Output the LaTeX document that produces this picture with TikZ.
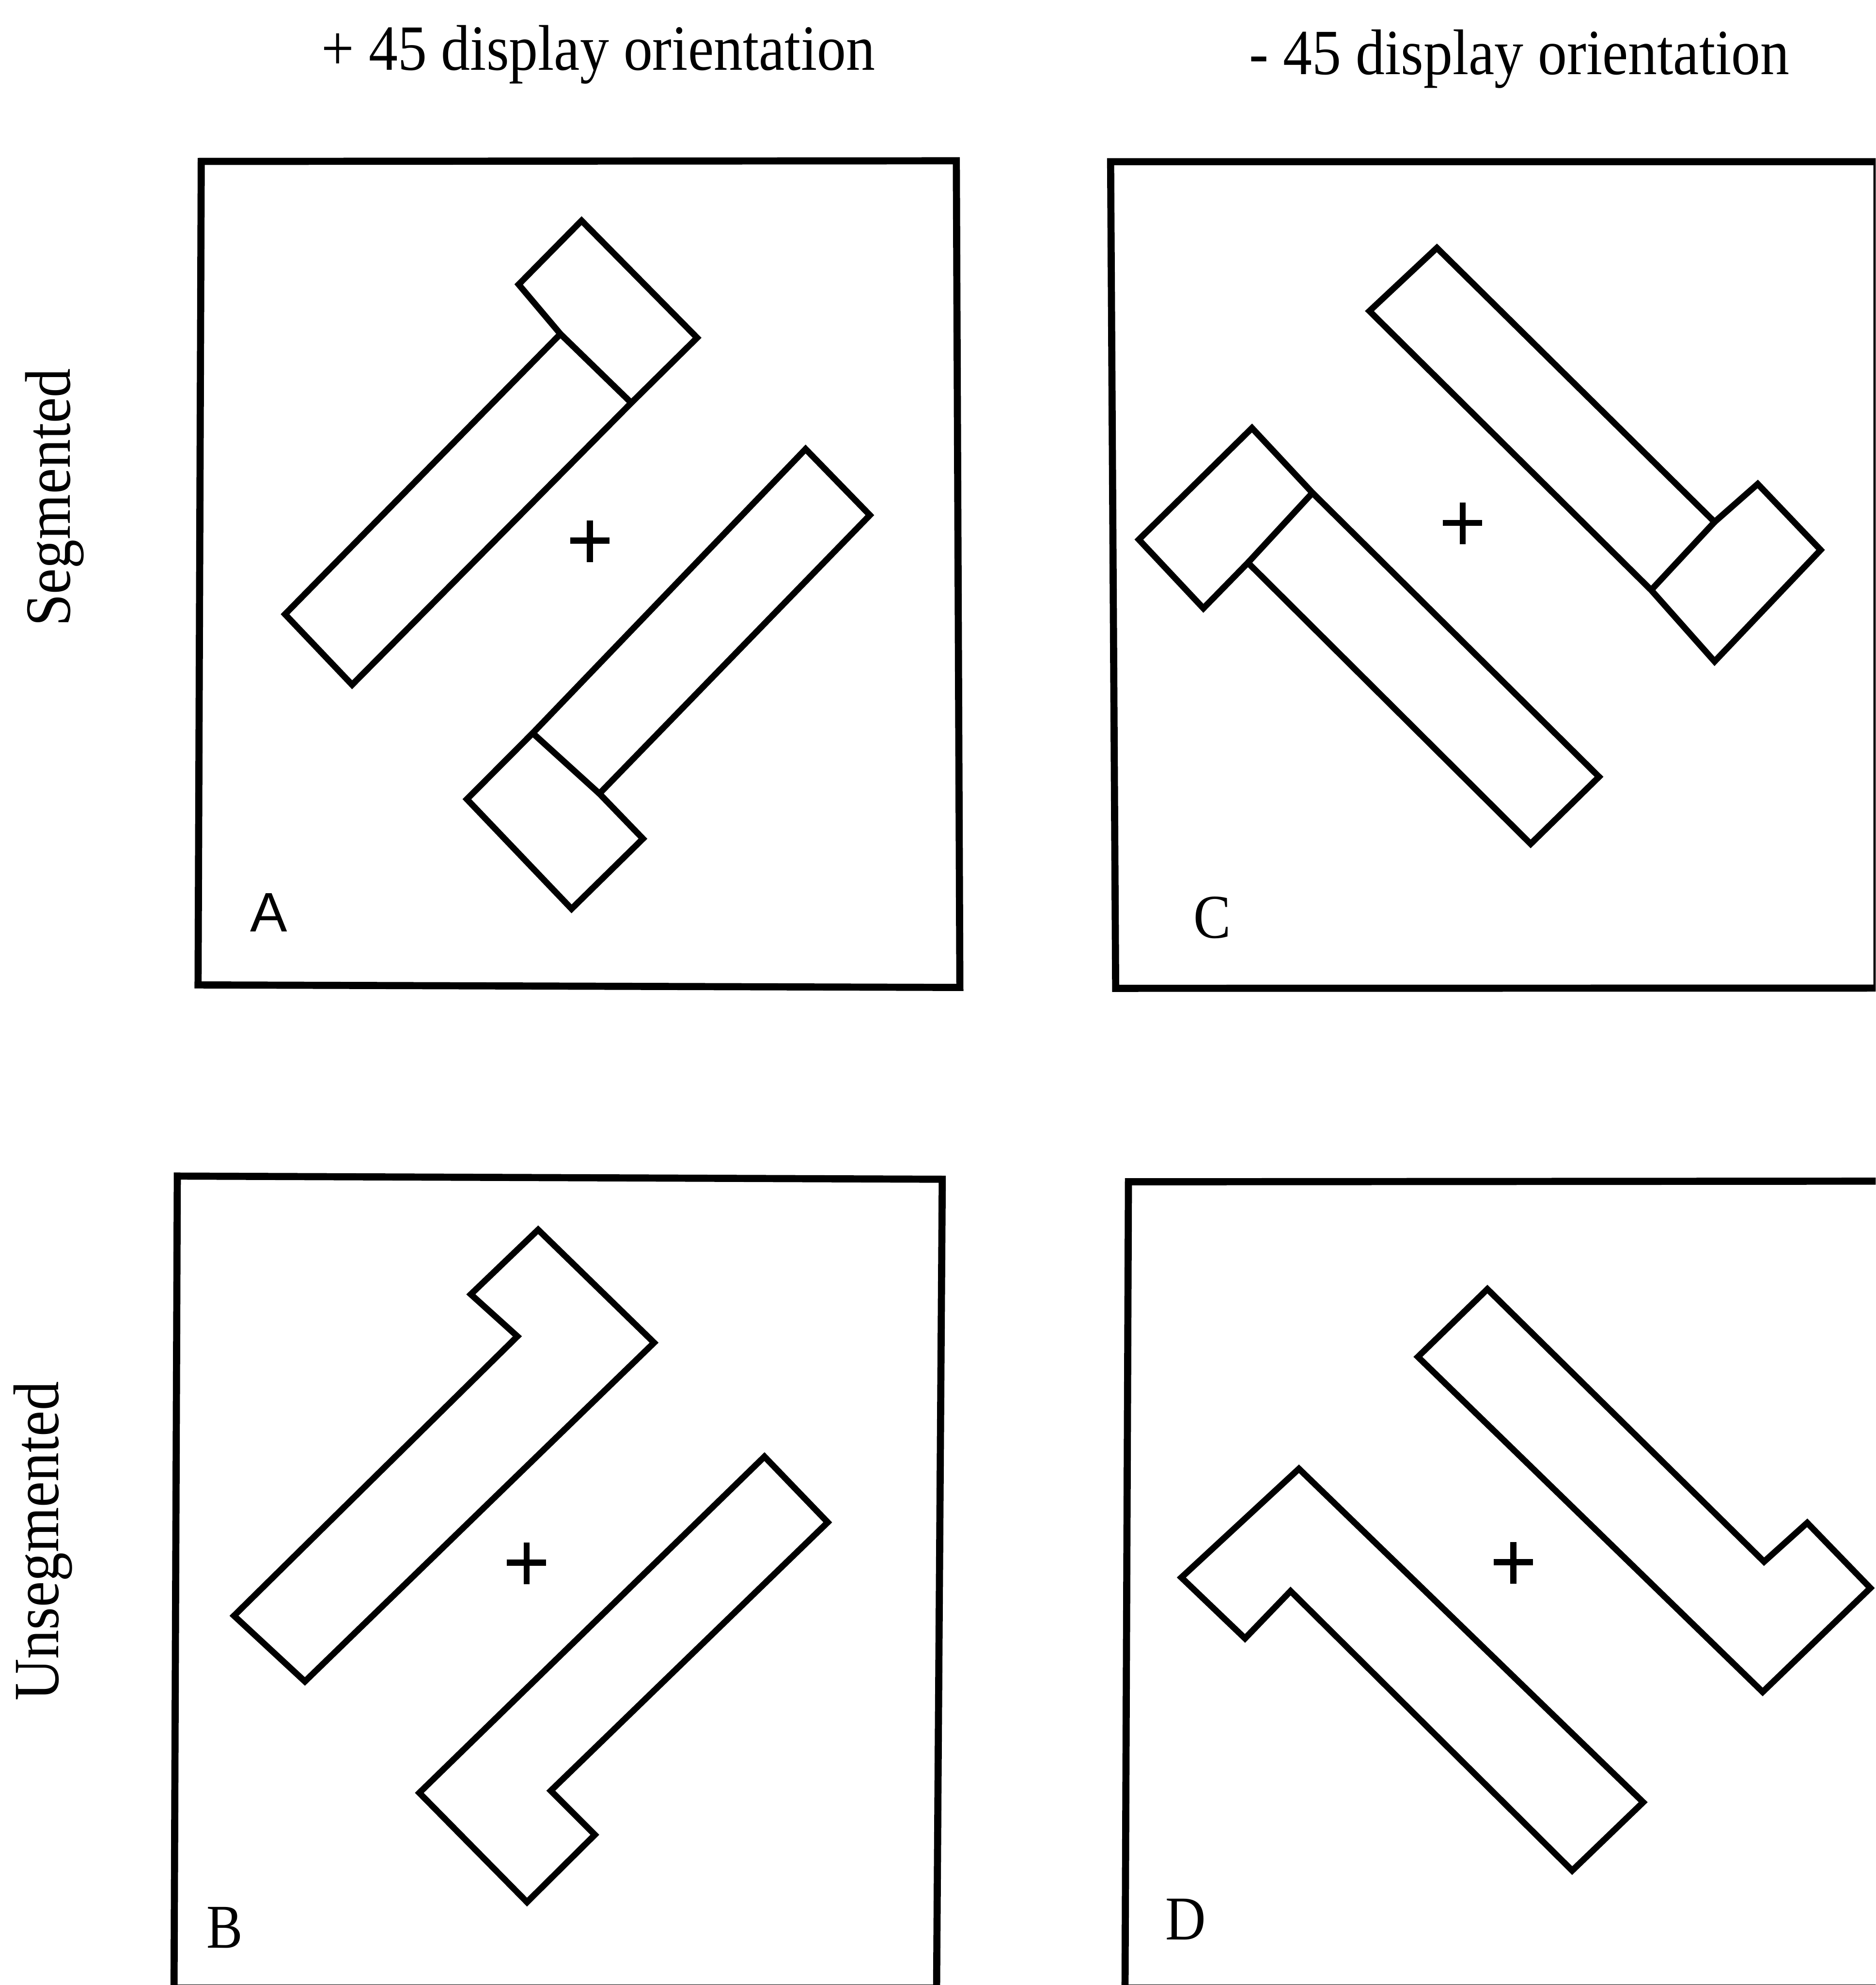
\documentclass[tikz,border=0pt]{standalone}
\usepackage{fontspec}
\usepackage{graphicx}
\setmainfont{Liberation Serif}
\newfontfamily\sansfam{Liberation Sans}
\begin{document}
\begin{tikzpicture}[x=0.1mm,y=-0.1mm,
  panelframe/.style={line width=1.6pt, line join=miter},
  figline/.style={line width=1.4pt, line join=miter},
  fixmark/.style={line width=1.35pt},
  ttl/.style={inner sep=0pt, anchor=base, font=\fontsize{14.5}{17}\selectfont},
  letter/.style={inner sep=0pt, anchor=base, font=\fontsize{14}{16}\selectfont},
  ]
\useasboundingbox (0,0) rectangle (1482,1568);
\clip (0,0) rectangle (1482,1568);

% headings
\node[ttl] (t1) at (472.7,55.4) {\scalebox{0.9}[1]{+ 45 display orientation}};
\node[ttl] (t2) at (1200.5,58.6) {\scalebox{0.9}[1]{- 45 display orientation}};
\node[ttl, rotate=90] (r1) at (55.4,393) {\scalebox{0.9}[1]{Segmented}};
\node[ttl, rotate=90] (r2) at (46,1217.5) {\scalebox{0.9}[1]{Unsegmented}};

% frames
\draw[panelframe] (159,127.5) -- (755.6,127) -- (758.4,780) -- (156.5,778) -- cycle;
\draw[panelframe] (877.5,127.7) -- (1483,127.7) -- (1483,780.5) -- (881.5,780.7) -- cycle;
\draw[panelframe] (140.1,929) -- (744.5,931.5) -- (740,1570.5) -- (137.5,1570.5) -- cycle;
\draw[panelframe] (891.6,933.5) -- (1490,933) -- (1490,1570.5) -- (888.9,1570.5) -- cycle;

% panel A (segmented, +45)
\draw[figline] (225.2,485.2) -- (442.8,263.8) -- (409.8,224.7) -- (459.5,174.3) -- (550.8,266.8) -- (498.8,318.2) -- (278.2,540.9) -- cycle;
\draw[figline] (442.8,263.8) -- (498.8,318.2);
\draw[figline] (636.5,354.7) -- (687.3,406.9) -- (473.6,626.9) -- (508,662.5) -- (451.6,717.9) -- (368.9,631.3) -- (420.9,579.1) -- cycle;
\draw[figline] (420.9,579.1) -- (473.6,626.9);

% panel C (segmented, -45)
\draw[figline] (1135.3,195.8) -- (1354.7,412.3) -- (1388.8,382.3) -- (1438.5,434.4) -- (1354.7,522.5) -- (1304.6,466.1) -- (1082,245.7) -- cycle;
\draw[figline] (1354.7,412.3) -- (1304.6,466.1);
\draw[figline] (989.2,338.1) -- (1037,389.3) -- (1263.4,613.6) -- (1209.4,666.6) -- (986,444.5) -- (950.8,480.5) -- (899.8,426.2) -- cycle;
\draw[figline] (1037,389.3) -- (986,444.5);

% panel B (unsegmented, +45)
\draw[figline] (425.2,971.4) -- (516.8,1060.6) -- (240.9,1328.2) -- (184.9,1276.3) -- (408.8,1055.6) -- (372,1022.4) -- cycle;
\draw[figline] (604,1150.6) -- (654,1202.5) -- (435.2,1414.5) -- (470,1449.3) -- (416.4,1502.5) -- (331.3,1416.2) -- cycle;

% panel D (unsegmented, -45)
\draw[figline] (1175.2,1018.3) -- (1393.8,1233.6) -- (1427.9,1202.9) -- (1477.8,1254.4) -- (1392.7,1336.5) -- (1120.3,1071.8) -- cycle;
\draw[figline] (1026.3,1160.2) -- (1298.3,1423.6) -- (1242.2,1477.6) -- (1019.7,1256.8) -- (983.7,1294.2) -- (933.4,1246.1) -- cycle;

% fixation crosses
\coordinate (pa) at (466,427);
\coordinate (pc) at (1155.6,413);
\coordinate (pb) at (416,1234.4);
\coordinate (pd) at (1195.7,1234);
\foreach \p in {pa,pc,pb,pd}{
  \draw[fixmark] (\p) ++(-15.5,0) -- ++(31,0);
  \draw[fixmark] (\p) ++(0,-16) -- ++(0,33);
}

% panel letters
\node[inner sep=0pt, anchor=base, font=\sansfam\fontsize{12.5}{14}\selectfont] (la) at (212.5,735.8) {A};
\node[letter] (lb) at (177.4,1538.6) {\scalebox{0.87}[1]{B}};
\node[letter] (lc) at (958,741) {\scalebox{0.9}[1]{C}};
\node[letter] (ld) at (937,1532) {\scalebox{0.9}[1]{D}};
\end{tikzpicture}
\end{document}
